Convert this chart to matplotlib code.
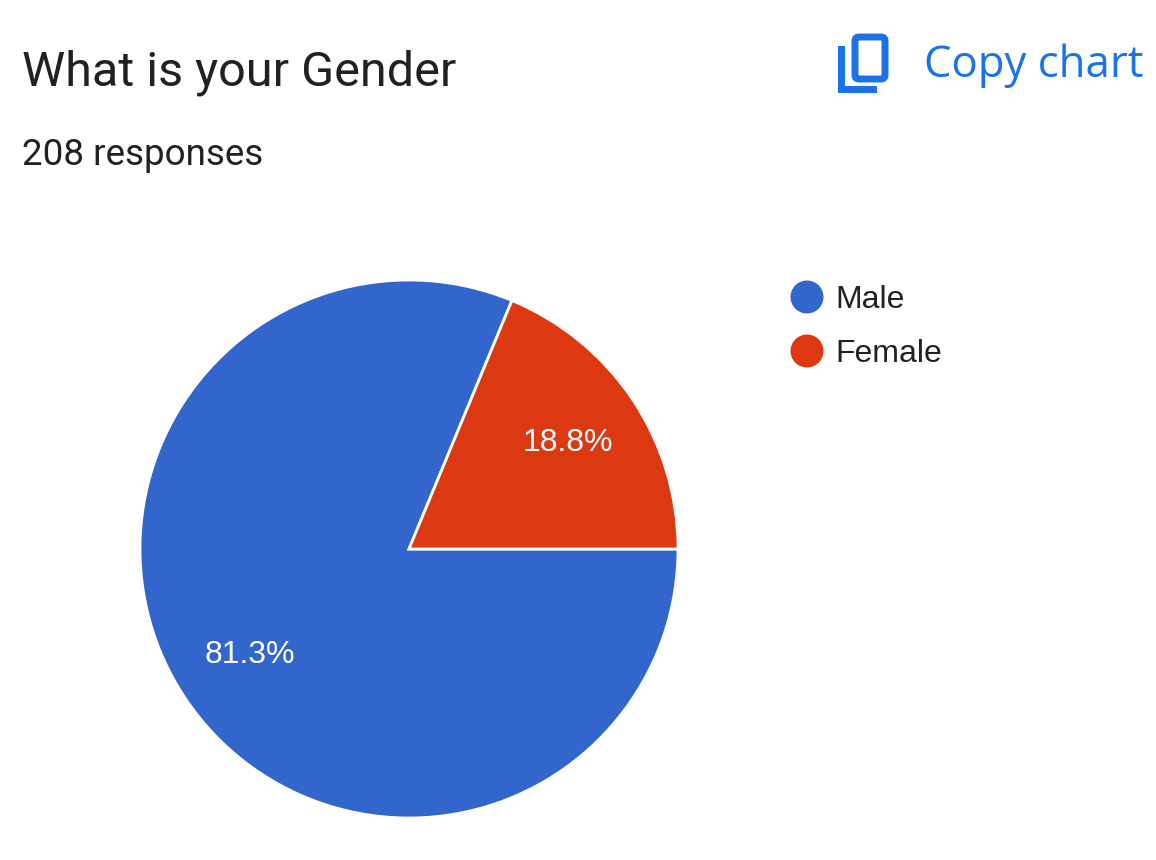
import matplotlib
matplotlib.use("Agg")
import matplotlib.pyplot as plt
from matplotlib.patches import FancyBboxPatch, Rectangle, Circle
from decimal import Decimal, ROUND_HALF_UP

# Daten
labels = ["Male", "Female"]
counts = [169, 39]
colors = ["#3366CC", "#DC3912"]
title = "What is your Gender"
responses = "208 responses"

W, H = 1156, 860
plt.rcParams["font.family"] = ["Roboto", "DejaVu Sans"]

fig = plt.figure(figsize=(W / 100, H / 100), dpi=100)
fig.patch.set_facecolor("white")


def fx(x):
    return x / W


def fy(y):
    return 1 - y / H


def pct_label(p):
    # Google rundet kaufmaennisch (81.25 -> 81.3)
    v = Decimal(str(round(p, 6))).quantize(Decimal("0.1"), rounding=ROUND_HALF_UP)
    return f"{v}%"


# Kopfzeile
fig.text(fx(22), fy(85), title, fontsize=35, color="#202124", va="baseline")
fig.text(fx(22), fy(165), responses, fontsize=26.5, color="#202124", va="baseline")
fig.text(fx(924), fy(77), "Copy chart", fontsize=31.5, color="#1A73E8",
         va="baseline", family=["Open Sans", "Roboto"])

# Copy-Icon
icon = fig.add_axes([0, 0, 1, 1], zorder=-1)
icon.set_xlim(0, W)
icon.set_ylim(H, 0)
icon.axis("off")
icon.add_patch(FancyBboxPatch((855, 37), 30, 42, boxstyle="round,pad=0,rounding_size=4",
                              fill=False, ec="#1A73E8", lw=5))
icon.add_patch(Rectangle((838, 46), 7, 47, color="#1A73E8", lw=0))
icon.add_patch(Rectangle((838, 86), 39, 7, color="#1A73E8", lw=0))

# Kreisdiagramm
cx, cy, r = 409, 549, 269
ax = fig.add_axes([fx(cx - r), fy(cy + r), 2 * r / W, 2 * r / H])
wedges, texts, autotexts = ax.pie(
    counts, colors=colors, startangle=67.5, counterclock=True,
    autopct=pct_label, pctdistance=0.71,
    wedgeprops=dict(edgecolor="white", linewidth=2),
    textprops=dict(color="white", fontsize=23, family=["Liberation Sans", "DejaVu Sans"]),
)
ax.set_xlim(-1, 1)
ax.set_ylim(-1, 1)
ax.set_aspect("auto")

# Legende
for i, (lab, col) in enumerate(zip(labels, colors)):
    y = 297 + i * 54
    icon.add_patch(Circle((807, y), 16.5, color=col, lw=0))
    fig.text(fx(835), fy(y), lab, fontsize=23, color="#202124", va="center_baseline",
             family=["Liberation Sans", "DejaVu Sans"])

fig.savefig("out.png", dpi=100)
